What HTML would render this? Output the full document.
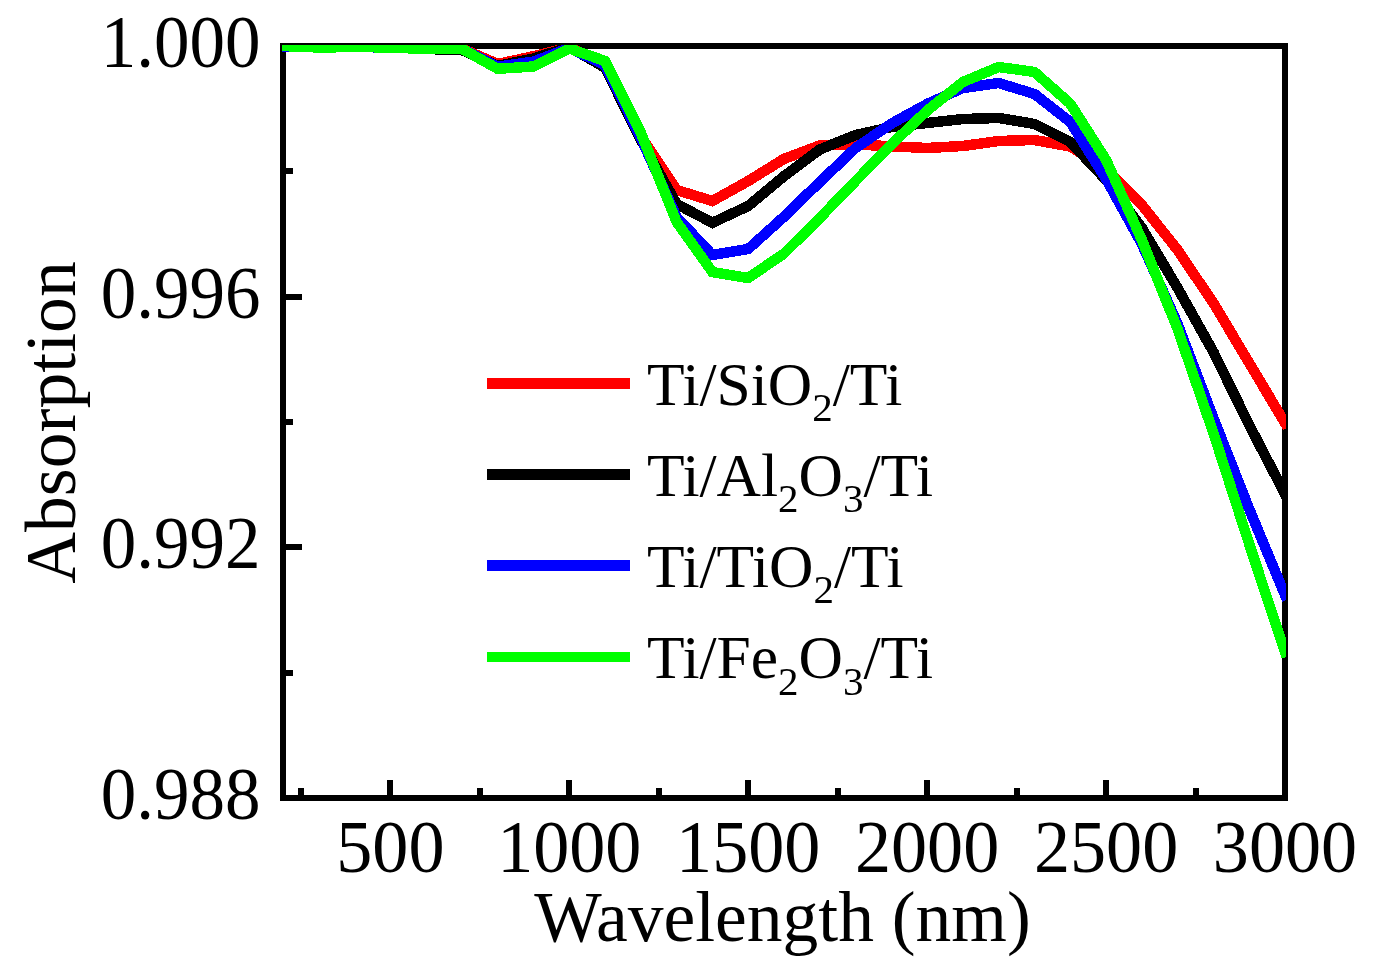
<!DOCTYPE html>
<html><head><meta charset="utf-8"><style>
html,body{margin:0;padding:0;background:#fff;}
svg{display:block;font-family:"Liberation Serif",serif;will-change:transform;}
</style></head><body>
<svg width="1374" height="978" viewBox="0 0 1374 978">
<defs><clipPath id="c"><rect x="282" y="45" width="1004" height="754"/></clipPath></defs>
<rect x="283" y="46" width="1002" height="752" fill="none" stroke="#000" stroke-width="6"/>
<path d="M301,795V788 M390,795V780 M480,795V788 M569,795V780 M659,795V788 M748,795V780 M838,795V788 M927,795V780 M1017,795V788 M1106,795V780 M1196,795V788 M286,171H293 M286,297H302 M286,422H293 M286,547H302 M286,673H293" stroke="#000" stroke-width="6" fill="none" shape-rendering="crispEdges"/>
<g clip-path="url(#c)" shape-rendering="crispEdges" fill="none" stroke-width="10.5" stroke-linejoin="miter" stroke-miterlimit="4" stroke-linecap="square">
<polyline points="283.0,46.0 318.8,47.0 354.6,47.0 390.4,47.5 426.1,49.0 461.9,48.5 497.7,64.0 533.5,56.2 569.3,47.5 605.1,63.0 640.9,136.0 676.6,190.0 712.4,201.0 748.2,181.0 784.0,158.9 819.8,145.5 855.6,144.5 891.4,146.3 927.1,148.0 962.9,146.0 998.7,141.0 1034.5,140.0 1070.3,146.5 1106.1,169.0 1141.9,205.0 1177.6,250.0 1213.4,303.0 1249.2,363.0 1285.0,423.0" stroke="#ff0000"/>
<polyline points="283.0,46.0 318.8,47.0 354.6,47.0 390.4,47.5 426.1,49.0 461.9,50.0 497.7,65.9 533.5,58.5 569.3,47.0 605.1,67.7 640.9,140.0 676.6,204.0 712.4,222.8 748.2,206.0 784.0,176.2 819.8,149.5 855.6,135.0 891.4,127.0 927.1,123.0 962.9,119.0 998.7,118.0 1034.5,124.0 1070.3,142.0 1106.1,180.0 1141.9,228.0 1177.6,288.0 1213.4,352.0 1249.2,425.0 1285.0,494.0" stroke="#000000"/>
<polyline points="283.0,47.0 318.8,47.0 354.6,47.0 390.4,47.5 426.1,49.0 461.9,48.8 497.7,66.7 533.5,61.6 569.3,48.0 605.1,65.0 640.9,138.0 676.6,217.0 712.4,255.0 748.2,249.0 784.0,216.7 819.8,182.0 855.6,148.0 891.4,123.6 927.1,104.0 962.9,88.0 998.7,83.0 1034.5,94.0 1070.3,122.0 1106.1,179.0 1141.9,244.0 1177.6,324.0 1213.4,418.0 1249.2,509.0 1285.0,595.0" stroke="#0000ff"/>
<polyline points="283.0,46.0 318.8,47.5 354.6,47.0 390.4,47.5 426.1,49.0 461.9,48.8 497.7,68.8 533.5,66.5 569.3,48.5 605.1,61.0 640.9,133.0 676.6,222.0 712.4,272.0 748.2,278.0 784.0,253.5 819.8,218.0 855.6,181.0 891.4,144.4 927.1,110.7 962.9,82.0 998.7,67.0 1034.5,72.0 1070.3,103.7 1106.1,160.0 1141.9,240.0 1177.6,329.0 1213.4,433.0 1249.2,544.0 1285.0,652.0" stroke="#00ff00"/>
</g>
<text transform="translate(260.5,67.0) scale(0.96,1)" text-anchor="end" font-size="74">1.000</text>
<text transform="translate(260.5,317.7) scale(0.96,1)" text-anchor="end" font-size="74">0.996</text>
<text transform="translate(260.5,568.3) scale(0.96,1)" text-anchor="end" font-size="74">0.992</text>
<text transform="translate(260.5,819.0) scale(0.96,1)" text-anchor="end" font-size="74">0.988</text>
<text transform="translate(390.4,872.2) scale(0.975,1)" text-anchor="middle" font-size="74">500</text>
<text transform="translate(569.3,872.2) scale(0.975,1)" text-anchor="middle" font-size="74">1000</text>
<text transform="translate(748.2,872.2) scale(0.975,1)" text-anchor="middle" font-size="74">1500</text>
<text transform="translate(927.1,872.2) scale(0.975,1)" text-anchor="middle" font-size="74">2000</text>
<text transform="translate(1106.1,872.2) scale(0.975,1)" text-anchor="middle" font-size="74">2500</text>
<text transform="translate(1285.0,872.2) scale(0.975,1)" text-anchor="middle" font-size="74">3000</text>
<text x="782.5" y="940.5" text-anchor="middle" font-size="71.5">Wavelength (nm)</text>
<text transform="translate(74.8,422.5) rotate(-90)" x="0" y="0" text-anchor="middle" font-size="71.7">Absorption</text>
<rect x="487" y="378" width="143" height="11" fill="#ff0000" shape-rendering="crispEdges"/>
<text x="647" y="404.6" font-size="61.5"><tspan dy="0">Ti/SiO</tspan><tspan font-size="41" dy="16.4">2</tspan><tspan dy="-16.4">/Ti</tspan></text>
<rect x="487" y="469" width="143" height="11" fill="#000000" shape-rendering="crispEdges"/>
<text x="647" y="495.8" font-size="61.5"><tspan dy="0">Ti/Al</tspan><tspan font-size="41" dy="16.4">2</tspan><tspan dy="-16.4">O</tspan><tspan font-size="41" dy="16.4">3</tspan><tspan dy="-16.4">/Ti</tspan></text>
<rect x="487" y="560" width="143" height="11" fill="#0000ff" shape-rendering="crispEdges"/>
<text x="647" y="587.0" font-size="61.5"><tspan dy="0">Ti/TiO</tspan><tspan font-size="41" dy="16.4">2</tspan><tspan dy="-16.4">/Ti</tspan></text>
<rect x="487" y="652" width="143" height="10" fill="#00ff00" shape-rendering="crispEdges"/>
<text x="647" y="678.2" font-size="61.5"><tspan dy="0">Ti/Fe</tspan><tspan font-size="41" dy="16.4">2</tspan><tspan dy="-16.4">O</tspan><tspan font-size="41" dy="16.4">3</tspan><tspan dy="-16.4">/Ti</tspan></text>
</svg>
</body></html>
